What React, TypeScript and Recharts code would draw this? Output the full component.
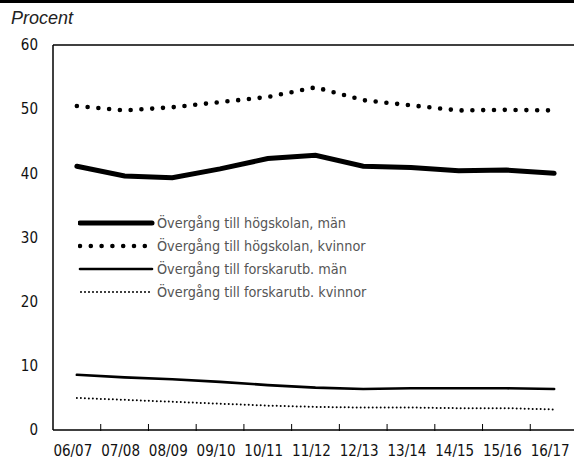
import React from 'react';
import { LineChart, Line, XAxis, YAxis, ReferenceLine } from 'recharts';

const categories = ['06/07', '07/08', '08/09', '09/10', '10/11', '11/12', '12/13', '13/14', '14/15', '15/16', '16/17'];
const hogskolanMan = [41.1, 39.6, 39.3, 40.7, 42.3, 42.8, 41.1, 40.9, 40.4, 40.5, 40.0];
const hogskolanKvinnor = [50.5, 49.8, 50.3, 51.1, 51.9, 53.4, 51.4, 50.6, 49.8, 49.9, 49.8];
const forskarMan = [8.6, 8.2, 7.9, 7.5, 7.0, 6.6, 6.4, 6.5, 6.5, 6.5, 6.4];
const forskarKvinnor = [5.0, 4.7, 4.4, 4.1, 3.8, 3.6, 3.5, 3.5, 3.4, 3.4, 3.2];
const yTicks = [0, 10, 20, 30, 40, 50, 60];

const seriesNames = [
  'Övergång till högskolan, män',
  'Övergång till högskolan, kvinnor',
  'Övergång till forskarutb. män',
  'Övergång till forskarutb. kvinnor',
];

const styles = [
  { strokeWidth: 5, dash: undefined, cap: 'round' as const },
  { strokeWidth: 4.6, dash: '0 10.8', cap: 'round' as const },
  { strokeWidth: 2.6, dash: undefined, cap: 'round' as const },
  { strokeWidth: 2, dash: '0 4', cap: 'round' as const },
];

const data = categories.map((c, i) => ({
  cat: c,
  s0: hogskolanMan[i],
  s1: hogskolanKvinnor[i],
  s2: forskarMan[i],
  s3: forskarKvinnor[i],
}));

const FONT = '"Liberation Sans Narrow", "DejaVu Sans Condensed", "Roboto Condensed", sans-serif';

const XTick = (props: any) => {
  const { x, y, payload } = props;
  const off = payload && typeof payload.offset === 'number' ? payload.offset : 0;
  return (
    <g>
      {payload.index > 0 && (
        <line x1={x - off} x2={x - off} y1={y - 8} y2={y - 1} stroke="#000" strokeWidth={1} />
      )}
      <text x={x - 4} y={y + 24} textAnchor="middle" fontFamily={FONT} fontSize={15} fill="#111">
        {payload.value}
      </text>
    </g>
  );
};

const LegendBox = () => (
  <svg width={330} height={95} style={{ position: 'absolute', left: 78, top: 213, display: 'block' }}>
    {seriesNames.map((n, i) => {
      const cy = 10 + i * 23;
      const st = styles[i];
      return (
        <g key={n}>
          <line
            x1={i === 3 ? 3 : 2}
            x2={74}
            y1={cy}
            y2={cy}
            stroke="#000"
            strokeWidth={st.strokeWidth}
            strokeDasharray={st.dash}
            strokeLinecap={st.cap}
          />
          <text x={79} y={cy + 5} fontFamily={FONT} fontSize={14.3} fill="#555">
            {n}
          </text>
        </g>
      );
    })}
  </svg>
);

export default function App() {
  return (
    <div style={{ position: 'absolute', left: 0, top: 0, width: 574, height: 461, overflow: 'hidden', background: '#fff' }}>
      <div style={{ position: 'absolute', left: 0, top: 0, width: 574, height: 3, background: '#000' }} />
      <div
        style={{
          position: 'absolute',
          left: 11,
          top: 7,
          fontFamily: '"Liberation Sans", Arial, sans-serif',
          fontStyle: 'italic',
          fontSize: 18,
          color: '#222',
          lineHeight: '22px',
        }}
      >
        Procent
      </div>
      <div style={{ position: 'absolute', left: 0, top: 0 }}>
        <LineChart
          width={580}
          height={461}
          data={data}
          margin={{ top: 45, right: 2, bottom: 0, left: 0 }}
        >
          <ReferenceLine y={60} stroke="#000" strokeWidth={1.5} />
          <XAxis
            dataKey="cat"
            scale="band"
            interval={0}
            axisLine={{ stroke: '#000', strokeWidth: 1.5 }}
            tickLine={false}
            tick={<XTick />}
            tickSize={0}
            height={31}
          />
          <YAxis
            domain={[0, 60]}
            ticks={yTicks}
            width={53}
            axisLine={{ stroke: '#000', strokeWidth: 1.5 }}
            tickLine={false}
            tickSize={0}
            tickMargin={15}
            tick={{ fontFamily: FONT, fontSize: 15, fill: '#111' }}
          />
          {styles.map((st, i) => (
            <Line
              key={i}
              type="linear"
              dataKey={`s${i}`}
              name={seriesNames[i]}
              stroke="#000"
              strokeWidth={st.strokeWidth}
              strokeDasharray={st.dash}
              strokeLinecap={st.cap}
              dot={false}
              activeDot={false}
              isAnimationActive={false}
            />
          ))}
        </LineChart>
      </div>
      <LegendBox />
    </div>
  );
}
